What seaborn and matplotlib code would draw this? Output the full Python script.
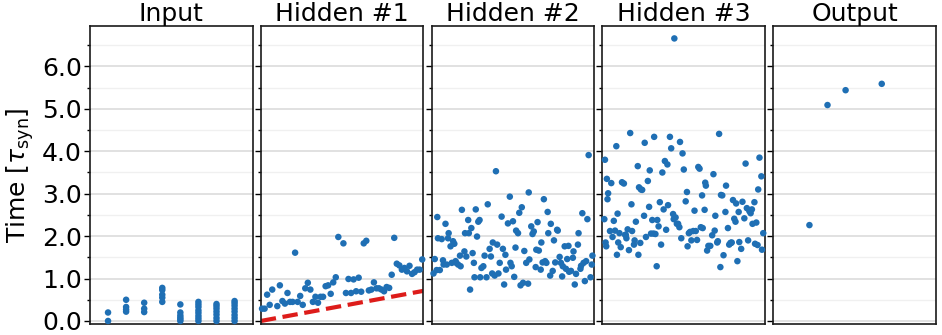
import numpy as np
import pandas as pd
import seaborn as sns
import matplotlib.pyplot as plt
from matplotlib.ticker import MultipleLocator

# spike times per layer (neuron index, time in tau_syn)
input_times = [
    [0.0, 0.2],
    [0.22, 0.27, 0.33, 0.5],
    [0.21, 0.29, 0.43],
    [0.45, 0.55, 0.62, 0.73, 0.78],
    [0.0, 0.04, 0.08, 0.13, 0.2, 0.39],
    [0.0, 0.06, 0.12, 0.19, 0.25, 0.33, 0.39, 0.45],
    [0.0, 0.07, 0.15, 0.22, 0.29, 0.35, 0.4],
    [0.0, 0.07, 0.14, 0.22, 0.29, 0.36, 0.42, 0.47],
]

h1_neuron = [0, 1, 2, 3, 4, 6, 7, 8, 9, 10, 11, 12, 13, 14, 15, 16, 17, 18, 19, 20,
             21, 22, 23, 24, 25, 26, 27, 28, 29, 30, 32, 33, 34, 35, 36, 37, 38, 39, 40, 41,
             42, 43, 44, 45, 46, 47, 48, 49, 50, 51, 52, 53, 54, 55, 56, 57, 58, 59, 60, 61,
             62, 63]
h1_time = [0.29, 0.29, 0.62, 0.38, 0.74, 0.35, 0.84, 0.47, 0.41, 0.66, 0.45, 0.45, 1.61, 0.45,
           0.59, 0.38, 0.77, 0.90, 0.74, 0.45, 0.57, 0.43, 0.57, 0.57, 0.82, 0.84, 0.64, 0.91,
           1.03, 1.98, 1.83, 0.66, 0.99, 0.66, 0.98, 0.70, 1.02, 0.69, 1.83, 1.89, 0.72, 0.74,
           0.91, 0.77, 0.77, 0.74, 0.70, 0.80, 0.78, 1.09, 1.96, 1.35, 1.31, 1.21, 1.25, 1.17,
           1.30, 1.11, 1.15, 1.21, 1.21, 1.45]
# lower bound on hidden #1 spike times
bound_x = [-0.5, 63.5]
bound_y = [0.0, 0.71]

h2_neuron = [2, 4, 7, 8, 9, 12, 15, 17, 18, 21, 23, 25, 26, 29, 31, 33, 35, 37, 38, 41,
             44, 45, 47, 51, 52, 54, 57, 58, 60, 62, 64, 66, 67, 69, 71, 73, 75, 76, 78, 81,
             83, 86, 88, 91, 93, 95, 96, 99, 101, 103, 105, 107, 110, 112, 114, 116, 117, 120,
             123, 124, 126, 128, 130, 132, 133, 136, 138, 140, 142, 144, 146, 149, 152, 153,
             154, 157, 159, 161, 164, 165, 167, 169, 172, 173, 175, 177, 179, 181, 183, 184,
             187, 188, 191, 193, 195, 198, 199, 202, 204, 206, 207, 210, 212, 214, 216, 217,
             220, 223, 224, 226, 228, 231, 232, 235, 236, 238, 240, 242, 244, 246, 248, 251,
             253, 254]
h2_time = [1.12, 1.46, 1.20, 2.45, 1.95, 1.20, 1.93, 1.43, 1.33, 2.29, 1.33, 1.95, 2.07, 1.76,
           1.37, 1.88, 1.82, 1.41, 1.37, 1.33, 1.54, 1.29, 2.62, 1.64, 2.07, 1.52, 2.38, 2.07,
           0.74, 2.19, 1.60, 1.37, 1.03, 2.63, 1.99, 2.34, 2.38, 1.03, 1.25, 1.29, 1.54, 1.03,
           2.75, 1.70, 1.52, 1.12, 1.85, 1.07, 3.53, 1.80, 1.12, 1.37, 2.46, 1.70, 0.86, 1.56,
           1.21, 2.30, 2.93, 1.37, 1.29, 2.35, 1.04, 1.73, 2.13, 2.07, 2.55, 0.84, 2.68, 0.90,
           1.65, 1.37, 0.88, 3.03, 1.45, 2.23, 2.05, 2.11, 1.27, 1.68, 2.33, 1.66, 1.21, 1.85,
           1.38, 2.87, 1.41, 1.37, 2.57, 2.07, 1.07, 2.29, 1.18, 1.90, 1.38, 2.15, 2.13, 1.51,
           1.37, 1.05, 1.29, 1.76, 1.23, 1.46, 1.77, 1.16, 1.18, 1.49, 1.64, 0.86, 1.11, 1.80,
           2.07, 1.23, 1.30, 2.54, 1.37, 0.94, 1.41, 2.40, 3.91, 1.03, 1.33, 1.54]

h3_neuron = [2, 3, 4, 5, 6, 7, 8, 11, 13, 15, 17, 19, 21, 22, 23, 24, 26, 28, 30, 33,
             35, 36, 37, 39, 41, 43, 45, 46, 49, 50, 52, 55, 56, 57, 59, 60, 62, 65, 66, 68,
             71, 73, 74, 76, 78, 80, 81, 83, 85, 86, 88, 90, 92, 94, 96, 98, 100, 102, 103,
             106, 108, 111, 112, 113, 115, 117, 119, 121, 122, 124, 126, 128, 131, 133, 134,
             136, 138, 140, 143, 145, 147, 149, 151, 153, 155, 157, 158, 161, 162, 163, 165,
             167, 170, 173, 175, 177, 178, 181, 182, 184, 186, 187, 189, 191, 194, 195, 198,
             200, 202, 203, 204, 206, 208, 210, 211, 213, 215, 216, 219, 221, 224, 226, 228,
             230, 232, 234, 236, 237, 240, 241, 243, 245, 246, 248, 251, 252, 254]
h3_time = [2.40, 3.80, 1.85, 1.76, 3.35, 2.87, 3.01, 2.12, 3.25, 1.98, 2.36, 2.13, 4.12, 1.56,
           2.53, 1.85, 2.07, 1.74, 3.27, 3.24, 2.03, 2.03, 1.95, 2.16, 1.67, 4.43, 2.75, 2.12,
           1.80, 1.90, 2.34, 3.65, 1.56, 3.15, 1.84, 3.10, 3.09, 2.48, 4.20, 1.98, 3.30, 2.69,
           3.55, 2.06, 2.38, 2.06, 4.34, 2.05, 1.29, 2.38, 2.23, 2.80, 1.80, 3.50, 2.63, 3.77,
           2.15, 3.69, 2.73, 4.34, 4.07, 2.52, 2.40, 6.66, 2.44, 2.29, 2.29, 2.21, 4.22, 1.95,
           3.95, 3.57, 2.82, 3.04, 1.76, 2.07, 2.10, 1.90, 2.12, 2.60, 2.12, 1.91, 3.63, 3.59,
           2.21, 2.96, 2.19, 2.62, 3.26, 3.19, 1.66, 1.77, 1.77, 2.02, 3.46, 2.13, 2.48, 1.85,
           1.88, 4.41, 1.27, 2.97, 2.96, 1.55, 2.57, 3.19, 2.19, 1.80, 1.84, 1.84, 1.85, 2.85,
           2.41, 2.34, 2.77, 1.41, 2.57, 1.86, 1.70, 2.81, 2.42, 3.71, 2.66, 1.90, 2.59, 2.54,
           2.63, 2.29, 2.80, 1.82, 2.32, 1.79, 3.10, 3.85, 3.41, 1.68, 2.07]

out_neuron = [2, 3, 4, 6]
out_time = [2.26, 5.09, 5.44, 5.59]

titles = ['Input', 'Hidden #1', 'Hidden #2', 'Hidden #3', 'Output']

in_x, in_y = [], []
for i, ts in enumerate(input_times):
    in_x += [i + 1] * len(ts)
    in_y += ts

layers = [
    (pd.DataFrame({'neuron': in_x, 'time': in_y}), (0, 9)),
    (pd.DataFrame({'neuron': h1_neuron, 'time': h1_time}), (-0.5, 63.5)),
    (pd.DataFrame({'neuron': h2_neuron, 'time': h2_time}), (-1, 257)),
    (pd.DataFrame({'neuron': h3_neuron, 'time': h3_time}), (-1, 257)),
    (pd.DataFrame({'neuron': out_neuron, 'time': out_time}), (0, 9)),
]

sns.set_style('white')
plt.rcParams['font.family'] = ['DejaVu Sans']
plt.rcParams['text.color'] = 'black'
plt.rcParams['axes.labelcolor'] = 'black'
plt.rcParams['ytick.color'] = 'black'

fig, axes = plt.subplots(1, 5, figsize=(9.42, 3.35), dpi=100, sharey=True)
plt.subplots_adjust(left=0.0955, right=0.9936, top=0.922, bottom=0.033, wspace=0.05)

for k, (ax, (df, xl)) in enumerate(zip(axes, layers)):
    ax.yaxis.set_major_locator(MultipleLocator(1.0))
    ax.yaxis.set_minor_locator(MultipleLocator(0.5))
    ax.grid(which='major', axis='y', color='#dcdcdc', lw=1.2, zorder=0)
    ax.grid(which='minor', axis='y', color='#f0f0f0', lw=1.0, zorder=0)
    ax.set_axisbelow(True)
    sns.scatterplot(data=df, x='neuron', y='time', ax=ax, s=22, color='#1f6fb4',
                    edgecolor='none', zorder=3, clip_on=False)
    if k == 1:
        sns.lineplot(x=bound_x, y=bound_y, ax=ax, color='#dd1c1a', lw=3,
                     linestyle='--', zorder=2)
    ax.set_xlim(*xl)
    ax.set_ylim(-0.07, 6.95)
    ax.set_xticks([])
    ax.set_xlabel('')
    ax.set_ylabel('')
    ax.set_title(titles[k], fontsize=18, pad=2, color='black')
    for sp in ax.spines.values():
        sp.set_color('#1a1a1a')
        sp.set_linewidth(1.2)
    ax.tick_params(axis='y', which='major', left=True, length=4, width=1,
                   labelsize=18, pad=2, labelleft=(k == 0), colors='black')
    ax.tick_params(axis='y', which='minor', left=True, length=2, width=1, colors='black')

axes[0].yaxis.set_major_formatter(plt.FormatStrFormatter('%.1f'))
axes[0].set_ylabel(r'Time [$\tau_\mathrm{syn}$]', fontsize=18, labelpad=4, color='black')

plt.savefig('out.png', dpi=100)
